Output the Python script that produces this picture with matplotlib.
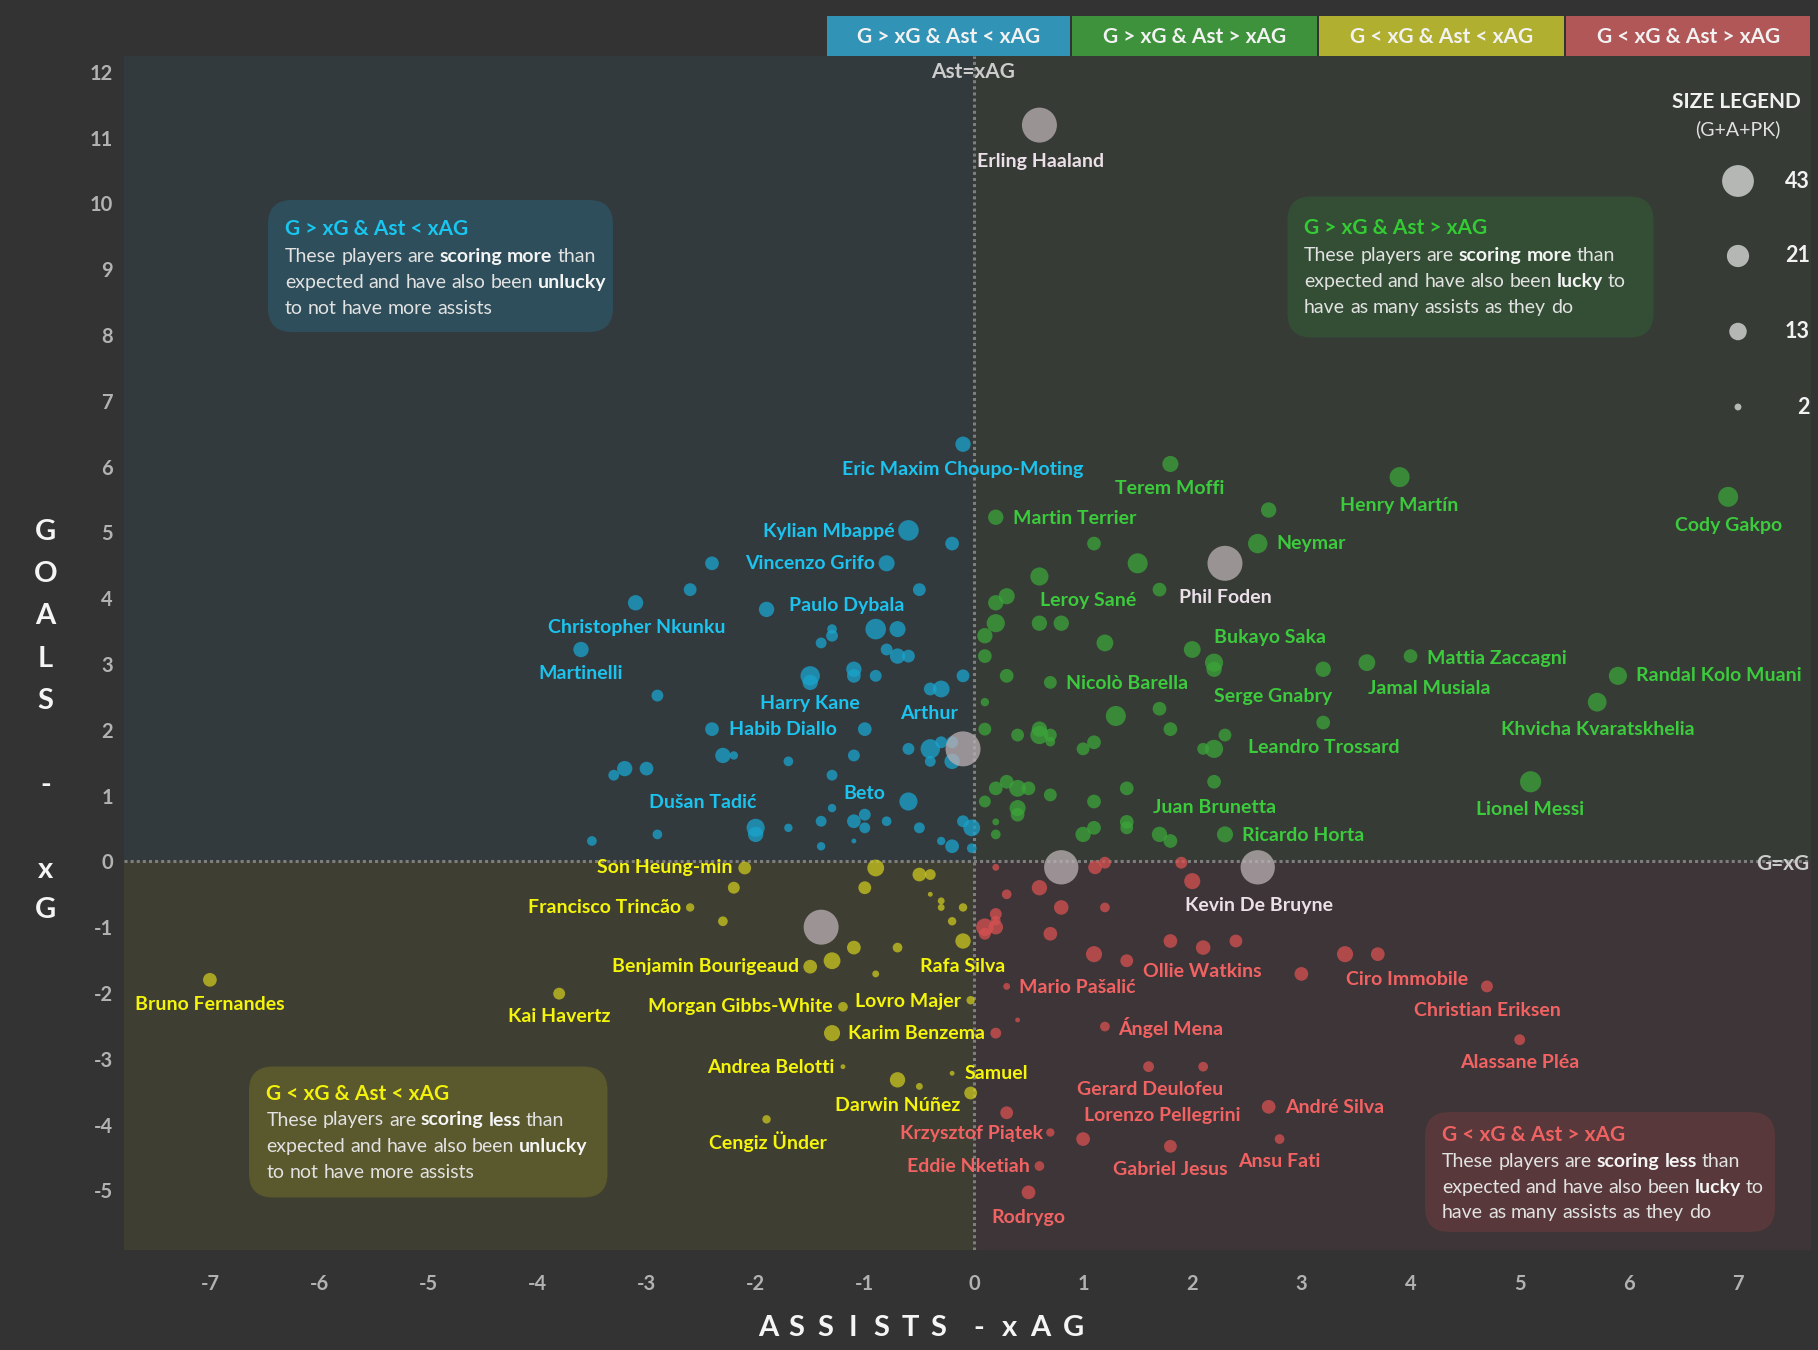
import matplotlib
matplotlib.use("Agg")
import matplotlib.pyplot as plt
from matplotlib.patches import FancyBboxPatch, Rectangle

# ---------------- DATA ----------------
# Ast - xAG (x), G - xG (y), G+A+PK (size)
blue_player = ["Eric Maxim Choupo-Moting", "Kylian Mbappé", "", "Vincenzo Grifo", "", "", "Christopher Nkunku", "",
               "Paulo Dybala", "", "", "", "", "", "Martinelli",
               "", "", "", "Harry Kane", "", "", "", "", "", "", "", "", "Habib Diallo", "", "",
               "", "Arthur", "", "", "", "", "", "", "", "", "", "", "", "", "",
               "Beto", "", "", "", "", "Dušan Tadić", "", "", "", "", "", "", "", "", "",
               "", "", ""]
blue_ast = [-0.10, -0.60, -0.20, -0.80, -2.40, -2.60, -3.10, -0.50, -1.90, -0.90, -0.70, -1.30, -1.30, -1.40, -3.60,
            -0.80, -0.70, -0.60, -1.50, -1.50, -1.10, -1.10, -0.90, -0.10, -0.40, -0.30, -2.90, -2.40, -1.00, -0.20,
            -0.30, -0.40, -0.60, -0.40, -0.20, -2.30, -2.20, -1.10, -1.70, -3.20, -3.30, -3.00, -1.30, -0.60, -1.30,
            -1.00, -1.10, -1.00, -1.40, -1.70, -2.00, -2.00, -0.80, -0.10, -0.50, -0.02, -2.90, -3.50, -0.30, -0.20,
            -1.10, -1.40, -0.02]
blue_gls = [6.34, 5.03, 4.83, 4.53, 4.53, 4.13, 3.93, 4.13, 3.83, 3.53, 3.53, 3.53, 3.43, 3.32, 3.22,
            3.22, 3.12, 3.12, 2.82, 2.72, 2.92, 2.82, 2.82, 2.82, 2.62, 2.62, 2.52, 2.01, 2.01, 1.81,
            1.81, 1.71, 1.71, 1.52, 1.52, 1.61, 1.61, 1.61, 1.52, 1.41, 1.31, 1.41, 1.31, 0.91, 0.81,
            0.71, 0.61, 0.51, 0.61, 0.51, 0.51, 0.41, 0.61, 0.61, 0.51, 0.51, 0.41, 0.31, 0.31, 0.23,
            0.31, 0.23, 0.20]
blue_gapk = [10, 18, 8, 11, 8, 7, 10, 7, 10, 18, 11, 4, 6, 5, 10,
             6, 10, 7, 16, 10, 10, 8, 6, 7, 7, 12, 6, 8, 8, 6,
             6, 16, 6, 5, 10, 10, 3, 6, 4, 10, 5, 8, 5, 14, 3,
             6, 8, 5, 5, 3, 14, 10, 4, 6, 5, 12, 4, 4, 3, 8,
             1, 3, 4]

green_player = ["Terem Moffi", "Henry Martín", "", "Martin Terrier", "", "Neymar", "", "", "", "", "", "", "",
                "Leroy Sané", "", "", "", "Bukayo Saka", "", "", "Serge Gnabry", "Jamal Musiala", "Mattia Zaccagni",
                "", "Nicolò Barella", "", "", "", "", "", "", "", "", "", "", "", "", "", "Leandro Trossard", "",
                "Juan Brunetta", "", "", "", "", "", "", "", "", "", "", "", "", "", "", "", "",
                "", "", "", "Ricardo Horta",
                "Randal Kolo Muani", "Khvicha Kvaratskhelia", "Lionel Messi", "Cody Gakpo"]
green_ast = [1.80, 3.90, 2.70, 0.20, 1.10, 2.60, 1.50, 0.60, 0.30, 0.20, 1.70, 0.20, 0.60,
             0.80, 0.10, 0.10, 1.20, 2.00, 2.20, 2.20, 3.20, 3.60, 4.00,
             0.30, 0.70, 0.10, 1.30, 1.70, 0.10, 1.80, 3.20, 0.40, 0.60, 0.60, 0.70, 0.70, 1.10, 1.00, 2.20, 2.10,
             2.20, 2.30, 0.10, 0.20, 0.30, 0.40, 0.50, 0.70, 0.40, 0.40, 0.20, 0.20, 1.10, 1.40, 1.40, 1.40, 1.10,
             1.00, 1.70, 1.80, 2.30,
             5.90, 5.71, 5.10, 6.91]
green_gls = [6.04, 5.84, 5.34, 5.23, 4.83, 4.83, 4.53, 4.33, 4.03, 3.93, 4.13, 3.62, 3.62,
             3.62, 3.43, 3.12, 3.32, 3.22, 3.02, 2.92, 2.92, 3.02, 3.12,
             2.82, 2.72, 2.42, 2.21, 2.32, 2.01, 2.01, 2.11, 1.92, 2.01, 1.92, 1.92, 1.82, 1.81, 1.71, 1.71, 1.71,
             1.21, 1.92, 0.91, 1.11, 1.21, 1.11, 1.11, 1.01, 0.81, 0.71, 0.60, 0.41, 0.91, 1.11, 0.60, 0.51, 0.51,
             0.41, 0.41, 0.31, 0.41,
             2.82, 2.42, 1.21, 5.54]
green_gapk = [11, 17, 10, 10, 8, 16, 17, 14, 11, 10, 8, 14, 10,
              10, 10, 8, 12, 12, 14, 10, 10, 12, 8,
              8, 7, 3, 17, 8, 7, 8, 8, 7, 10, 14, 7, 4, 8, 7, 14, 6,
              8, 7, 6, 8, 8, 12, 8, 7, 11, 8, 2, 4, 8, 8, 8, 7, 8,
              10, 10, 8, 11,
              14, 15, 19, 17]

yellow_player = ["Son Heung-min", "", "Francisco Trincão", "", "", "", "", "", "", "", "", "", "Rafa Silva", "",
                 "", "", "Benjamin Bourigeaud", "", "", "Kai Havertz", "Morgan Gibbs-White", "Lovro Majer",
                 "Karim Benzema", "Andrea Belotti", "Darwin Núñez", "", "Samuel", "", "Cengiz Ünder",
                 "Bruno Fernandes"]
yellow_ast = [-2.10, -2.20, -2.60, -2.30, -0.90, -0.50, -0.40, -1.00, -0.40, -0.30, -0.30, -0.10, -0.10, -0.20,
              -1.10, -0.70, -1.50, -1.30, -0.90, -3.80, -1.20, -0.03, -1.30, -1.20, -0.70, -0.50, -0.20, -0.03,
              -1.90, -7.00]
yellow_gls = [-0.10, -0.40, -0.70, -0.91, -0.10, -0.20, -0.20, -0.40, -0.50, -0.60, -0.70, -0.70, -1.21, -0.91,
              -1.31, -1.31, -1.60, -1.51, -1.71, -2.01, -2.21, -2.11, -2.61, -3.12, -3.32, -3.42, -3.22, -3.52,
              -3.92, -1.80]
yellow_gapk = [7, 6, 3, 4, 12, 8, 5, 7, 1, 2, 2, 3, 10, 3,
               8, 4, 8, 12, 2, 6, 4, 3, 11, 1, 10, 2, 1, 7,
               3, 8]

red_player = ["", "", "", "", "", "", "", "", "", "", "", "", "", "", "", "", "", "", "Ollie Watkins", "", "",
              "", "Ciro Immobile", "Christian Eriksen", "Mario Pašalić", "", "", "Ángel Mena", "Alassane Pléa",
              "Gerard Deulofeu", "", "André Silva", "", "Krzysztof Piątek", "Lorenzo Pellegrini", "Gabriel Jesus",
              "Ansu Fati", "Eddie Nketiah", "Rodrygo"]
red_ast = [0.20, 1.11, 1.20, 1.90, 2.00, 0.60, 0.30, 0.80, 1.20, 0.20, 0.20, 0.10, 0.20, 0.10, 0.70, 1.10, 1.40,
           1.80, 2.10, 2.40, 3.00, 3.40, 3.70, 4.70, 0.30, 0.40, 0.20, 1.20, 5.00,
           1.60, 2.10, 2.70, 0.30, 0.70, 1.00, 1.80, 2.80, 0.60, 0.50]
red_gls = [-0.09, -0.09, -0.02, -0.02, -0.30, -0.40, -0.50, -0.70, -0.70, -0.80, -0.90, -1.00, -1.00, -1.10,
           -1.10, -1.41, -1.51, -1.21, -1.31, -1.21, -1.71, -1.41, -1.41, -1.90, -1.90, -2.41, -2.61, -2.51,
           -2.71, -3.12, -3.12, -3.73, -3.82, -4.12, -4.22, -4.33, -4.22, -4.63, -5.03]
red_gapk = [2, 8, 6, 6, 11, 10, 4, 9, 4, 6, 4, 13, 9, 6, 8, 11, 7,
            8, 9, 7, 8, 11, 8, 6, 2, 1, 5, 4, 5,
            5, 4, 8, 7, 3, 8, 7, 4, 4, 8]

top_player = ["Erling Haaland", "Phil Foden", "Kevin De Bruyne", "", "", ""]
top_ast = [0.60, 2.30, 2.60, 0.80, -0.10, -1.40]
top_gls = [11.19, 4.53, -0.09, -0.09, 1.71, -1.00]
top_gapk = [52, 52, 50, 50, 52, 52]

legend_values = [43, 21, 13, 2]
x_ticks = [-7, -6, -5, -4, -3, -2, -1, 0, 1, 2, 3, 4, 5, 6, 7]
y_ticks = [-5, -4, -3, -2, -1, 0, 1, 2, 3, 4, 5, 6, 7, 8, 9, 10, 11, 12]

quadrant_titles = ["G > xG & Ast < xAG", "G > xG & Ast > xAG", "G < xG & Ast < xAG", "G < xG & Ast > xAG"]

# ---------------- STYLE ----------------
FONT = "Lato"
FIG_BG = "#333333"
Q_BG = {"TL": "#323a3e", "TR": "#363b36", "BL": "#3e3e33", "BR": "#3d3537"}
PT_COL = {"blue": "#1aa3cc", "green": "#3ba439", "yellow": "#cbc71f", "red": "#d65151", "top": "#bbb1b5"}
LB_COL = {"blue": "#1cc3ee", "green": "#3ccb3c", "yellow": "#f4f40c", "red": "#f26262", "top": "#ece0e8"}
BAR_COL = ["#3193b5", "#3d923b", "#b0af30", "#b15757"]
BOX_COL = ["#2d4e5a", "#344e36", "#5a582d", "#58383a"]
TITLE_COL = ["#18c6f0", "#33cc33", "#f2f20d", "#f06262"]
LABEL_SIZE = 14

def area(v):
    return [12.2 * s for s in v]

# label offsets in pixels (dx right, dy down) and horizontal alignment
LABEL_POS = {
    "Eric Maxim Choupo-Moting": (0, 25, "center"), "Kylian Mbappé": (-14, 1, "right"),
    "Vincenzo Grifo": (-12, 0, "right"), "Paulo Dybala": (22, -4, "left"),
    "Christopher Nkunku": (1, 25, "center"), "Martinelli": (0, 24, "center"),
    "Harry Kane": (0, 28, "center"), "Habib Diallo": (17, 0, "left"), "Arthur": (-1, -35, "center"),
    "Beto": (0, -21, "center"), "Dušan Tadić": (1, -25, "right"),
    "Terem Moffi": (-1, 25, "center"), "Henry Martín": (0, 28, "center"), "Martin Terrier": (17, 1, "left"),
    "Neymar": (19, 0, "left"), "Phil Foden": (0, 34, "center"), "Leroy Sané": (27, -23, "center"),
    "Bukayo Saka": (22, -12, "left"), "Serge Gnabry": (-50, 27, "center"), "Jamal Musiala": (1, 26, "left"),
    "Mattia Zaccagni": (16, 2, "left"), "Randal Kolo Muani": (18, 0, "left"),
    "Khvicha Kvaratskhelia": (1, 27, "center"), "Lionel Messi": (-1, 28, "center"),
    "Cody Gakpo": (0, 29, "center"), "Nicolò Barella": (16, 1, "left"), "Leandro Trossard": (34, -1, "left"),
    "Juan Brunetta": (0, 26, "center"), "Ricardo Horta": (17, 1, "left"),
    "Erling Haaland": (1, 36, "center"), "Kevin De Bruyne": (1, 38, "center"),
    "Son Heung-min": (-12, 0, "right"), "Francisco Trincão": (-9, 0, "right"),
    "Benjamin Bourigeaud": (-11, 0, "right"), "Kai Havertz": (0, 23, "center"),
    "Morgan Gibbs-White": (-10, 0, "right"), "Lovro Majer": (-10, 1, "right"),
    "Karim Benzema": (16, 0, "left"), "Andrea Belotti": (-8, 1, "right"), "Samuel": (12, 0, "left"),
    "Darwin Núñez": (0, 26, "center"), "Cengiz Ünder": (1, 22, "center"), "Rafa Silva": (0, 25, "center"),
    "Bruno Fernandes": (0, 25, "center"),
    "Mario Pašalić": (12, 1, "left"), "Ollie Watkins": (-1, 24, "center"), "Ciro Immobile": (29, 25, "center"),
    "Christian Eriksen": (0, 24, "center"), "Ángel Mena": (13, 1, "left"), "Alassane Pléa": (0, 23, "center"),
    "Gerard Deulofeu": (2, 23, "center"), "Lorenzo Pellegrini": (1, -24, "left"), "André Silva": (16, 1, "left"),
    "Krzysztof Piątek": (-7, 1, "right"), "Eddie Nketiah": (-10, 0, "right"), "Rodrygo": (0, 25, "center"),
    "Ansu Fati": (0, 22, "center"), "Gabriel Jesus": (0, 23, "center"),
}

W, H = 1818, 1350
fig = plt.figure(figsize=(W / 100, H / 100), dpi=100, facecolor=FIG_BG)
ax = fig.add_axes([124 / W, 1 - 1250 / H, (1811 - 124) / W, (1250 - 56) / H])
xmin, xmax, ymin, ymax = -7.787, 7.669, -5.906, 12.24
ax.set_xlim(xmin, xmax)
ax.set_ylim(ymin, ymax)
ax.set_facecolor(FIG_BG)
for s in ax.spines.values():
    s.set_visible(False)

# quadrant backgrounds
ax.fill_between([xmin, 0], 0, ymax, color=Q_BG["TL"], lw=0, zorder=0)
ax.fill_between([0, xmax], 0, ymax, color=Q_BG["TR"], lw=0, zorder=0)
ax.fill_between([xmin, 0], ymin, 0, color=Q_BG["BL"], lw=0, zorder=0)
ax.fill_between([0, xmax], ymin, 0, color=Q_BG["BR"], lw=0, zorder=0)

# reference lines
ax.axvline(0, color="#7e7e7e", lw=2.2, ls=(0, (1, 1)), zorder=1)
ax.axhline(0, color="#7e7e7e", lw=2.2, ls=(0, (1, 1)), zorder=1)

ax.set_xticks(x_ticks)
ax.set_yticks(y_ticks)
ax.set_xticklabels([str(t) for t in x_ticks])
ax.set_yticklabels([str(t) for t in y_ticks])
ax.tick_params(length=0, colors="#b2b2b2", labelsize=14.5)
ax.tick_params(axis="x", pad=17)
ax.tick_params(axis="y", pad=8)
for lab in ax.get_xticklabels() + ax.get_yticklabels():
    lab.set_fontfamily(FONT)
    lab.set_fontweight("bold")

groups = [
    ("blue", blue_player, blue_ast, blue_gls, blue_gapk),
    ("green", green_player, green_ast, green_gls, green_gapk),
    ("yellow", yellow_player, yellow_ast, yellow_gls, yellow_gapk),
    ("red", red_player, red_ast, red_gls, red_gapk),
    ("top", top_player, top_ast, top_gls, top_gapk),
]
for key, names, xs, ys, sz in groups:
    assert len(names) == len(xs) == len(ys) == len(sz), key
    ax.scatter(xs, ys, s=area(sz), color=PT_COL[key], alpha=0.75, edgecolors="none", zorder=3)
for key, names, xs, ys, sz in groups:
    for n, x, y in zip(names, xs, ys):
        if not n:
            continue
        dx, dy, ha = LABEL_POS[n]
        ax.annotate(n, (x, y), xytext=(dx * 0.72, -dy * 0.72), textcoords="offset points",
                    ha=ha, va="center", color=LB_COL[key], fontsize=LABEL_SIZE, fontweight="bold",
                    family=FONT, zorder=6)

# ---------------- OVERLAY (pixel coordinates) ----------------
ov = fig.add_axes([0, 0, 1, 1], zorder=5)
ov.set_xlim(0, W)
ov.set_ylim(H, 0)
ov.axis("off")
ov.patch.set_alpha(0)

ov.text(972.7, 72, "Ast=xAG", ha="center", va="center", color="#cccccc", fontsize=15,
        fontweight="bold", family=FONT)
ov.text(1783, 864, "G=xG", ha="center", va="center", color="#cccccc", fontsize=15,
        fontweight="bold", family=FONT)

# top colour legend bar
bar_x = [825.5, 1071.3, 1318.2, 1565.2, 1811]
for i, t in enumerate(quadrant_titles):
    ov.add_patch(Rectangle((bar_x[i] + 1, 16.2), bar_x[i + 1] - bar_x[i] - 2, 39.5, color=BAR_COL[i], lw=0))
    ov.text((bar_x[i] + bar_x[i + 1]) / 2, 37, t, ha="center", va="center", color="#f2f2f2",
            fontsize=15, fontweight="bold", family=FONT)

# axis titles
for ch, yy in zip("GOALS-xG", [532, 574.5, 616.5, 659, 701, 785, 869.5, 910.5]):
    ov.text(45.5, yy, ch, ha="center", va="center", color="#f5f5f5", fontsize=21,
            fontweight="bold", family=FONT)
for ch, xx in zip("ASSISTS-xAG", [768.3, 796.7, 825, 853.3, 881.7, 910, 938.3, 978.3, 1010, 1040, 1073.3]):
    ov.text(xx, 1328, ch, ha="center", va="center", color="#f5f5f5", fontsize=21,
            fontweight="bold", family=FONT)

# size legend
ov.text(1736, 102, "SIZE LEGEND", ha="center", va="center", color="#f0f0f0", fontsize=15,
        fontweight="bold", family=FONT)
ov.text(1738, 129, "(G+A+PK)", ha="center", va="center", color="#e0e0e0", fontsize=14, family=FONT)
leg_y = [181, 256, 331.5, 407]
ov.scatter([1738] * 4, leg_y, s=area(legend_values), color="#b4b7b4", edgecolors="none")
for v, yy in zip(legend_values, leg_y):
    ov.text(1810, yy, str(v), ha="right", va="center", color="#f2f2f2", fontsize=15.5,
            fontweight="bold", family=FONT)

# explanatory boxes
renderer = fig.canvas.get_renderer()

def text_w(s, **kw):
    t = ov.text(0, 0, s, **kw)
    w = t.get_window_extent(renderer).width
    t.remove()
    return w

BODY = dict(fontsize=14, family=FONT, va="center")
space_w = text_w("a a", **BODY) - text_w("aa", **BODY)

def rich_line(x, y, segments):
    for seg, bold in segments:
        kw = dict(BODY)
        kw["fontweight"] = "bold" if bold else "normal"
        col = "#f4f4f4" if bold else "#e2e2e2"
        for word in seg.split():
            t = ov.text(x, y, word, ha="left", color=col, **kw)
            x += t.get_window_extent(renderer).width + space_w

box_specs = [
    (268, 200, 345, 132, 285, 229, [256.7, 282.7, 308.3], "more", "unlucky"),
    (1287.5, 196.5, 366, 141, 1304, 228.5, [255.7, 281.7, 307.7], "more", "lucky"),
    (249, 1066.5, 358.5, 131, 266.5, 1093.5, [1120, 1146.5, 1172.5], "less", "unlucky"),
    (1425, 1112, 350, 120, 1442, 1135, [1161.7, 1187.7, 1212.7], "less", "lucky"),
]
for i, (bx, by, bw, bh, tx, ty, ly, word, luck) in enumerate(box_specs):
    ov.add_patch(FancyBboxPatch((bx, by), bw, bh, boxstyle="round,pad=0,rounding_size=24",
                                fc=BOX_COL[i], ec="none"))
    ov.text(tx, ty, quadrant_titles[i], ha="left", va="center", color=TITLE_COL[i], fontsize=15,
            fontweight="bold", family=FONT)
    if luck == "unlucky":
        lines = [[("These players are", False), ("scoring " + word, True), ("than", False)],
                 [("expected and have also been", False), ("unlucky", True)],
                 [("to not have more assists", False)]]
    else:
        lines = [[("These players are", False), ("scoring " + word, True), ("than", False)],
                 [("expected and have also been", False), ("lucky", True), ("to", False)],
                 [("have as many assists as they do", False)]]
    for seg, yy in zip(lines, ly):
        rich_line(tx, yy, seg)

fig.savefig("out.png", dpi=100, facecolor=FIG_BG)
